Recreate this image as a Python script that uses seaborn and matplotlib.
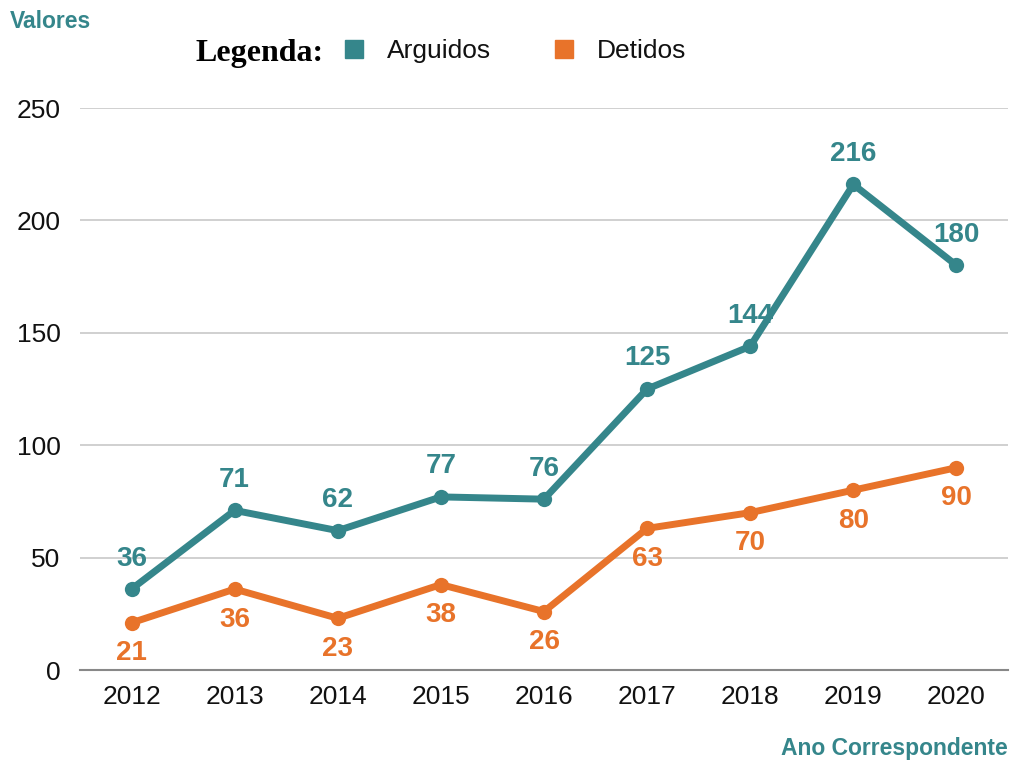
import matplotlib
matplotlib.use("Agg")
import matplotlib.pyplot as plt
import seaborn as sns
import pandas as pd
from matplotlib.lines import Line2D

years = ["2012", "2013", "2014", "2015", "2016", "2017", "2018", "2019", "2020"]
arguidos = [36, 71, 62, 77, 76, 125, 144, 216, 180]
detidos = [21, 36, 23, 38, 26, 63, 70, 80, 90]
series_names = ["Arguidos", "Detidos"]
yticks = [0, 50, 100, 150, 200, 250]

TEAL = "#35868b"
ORANGE = "#e8732a"

sns.set_theme(style="white")
plt.rcParams['font.family'] = ['Liberation Sans', 'DejaVu Sans']

df = pd.DataFrame({
    "Ano": years * 2,
    "Valor": arguidos + detidos,
    "Serie": [series_names[0]] * len(years) + [series_names[1]] * len(years),
})

fig = plt.figure(figsize=(10.11, 7.6), dpi=100)
ax = fig.add_axes([80 / 1011, 90 / 760, 928 / 1011, 562 / 760])

sns.lineplot(data=df, x="Ano", y="Valor", hue="Serie", palette=[TEAL, ORANGE],
             marker="o", markersize=11, markeredgewidth=0, linewidth=5,
             legend=False, ax=ax, sort=False)

ax.set_xlim(-0.5, len(years) - 0.5)
ax.set_ylim(0, 250)
ax.set_yticks(yticks)
ax.set_yticklabels([str(v) for v in yticks], fontsize=19, color="#111111")
ax.set_xticks(range(len(years)))
ax.set_xticklabels(years, fontsize=19, color="#111111")
ax.tick_params(axis="both", length=0)
ax.tick_params(axis="x", pad=11)
ax.tick_params(axis="y", pad=14)
ax.yaxis.grid(True, color="#c8c8c8", linewidth=1.2)
ax.set_axisbelow(True)
for s in ["top", "right", "left"]:
    ax.spines[s].set_visible(False)
ax.spines["bottom"].set_color("#888888")
ax.spines["bottom"].set_linewidth(1.5)
ax.set_xlabel("")
ax.set_ylabel("")

for i, v in enumerate(arguidos):
    ax.annotate(str(v), (i, v), xytext=(0, 22), textcoords="offset points",
                ha="center", va="center", fontsize=20, fontweight="bold", color=TEAL)
for i, v in enumerate(detidos):
    ax.annotate(str(v), (i, v), xytext=(0, -22), textcoords="offset points",
                ha="center", va="center", fontsize=20, fontweight="bold", color=ORANGE)

fig.text(10 / 1011, 1 - 22 / 760, "Valores", fontsize=16.5, fontweight="bold",
         color=TEAL, ha="left", va="center")
fig.text(1008 / 1011, 1 - 749 / 760, "Ano Correspondente", fontsize=16.5,
         fontweight="bold", color=TEAL, ha="right", va="center")

fig.text(196 / 1011, 1 - 53 / 760, "Legenda:", fontsize=23, fontweight="bold",
         family=["Liberation Serif", "DejaVu Serif"], color="black",
         ha="left", va="center")
handles = [Line2D([], [], marker="s", linestyle="", color=c, markersize=13)
           for c in [TEAL, ORANGE]]
leg = fig.legend(handles, series_names, loc="center left",
                 bbox_to_anchor=(317 / 1011, 1 - 51 / 760), ncol=2, frameon=False,
                 fontsize=19, handletextpad=0.75, columnspacing=2.25,
                 handlelength=1.0)
for t in leg.get_texts():
    t.set_color("#111111")

fig.savefig("out.png", dpi=100)
